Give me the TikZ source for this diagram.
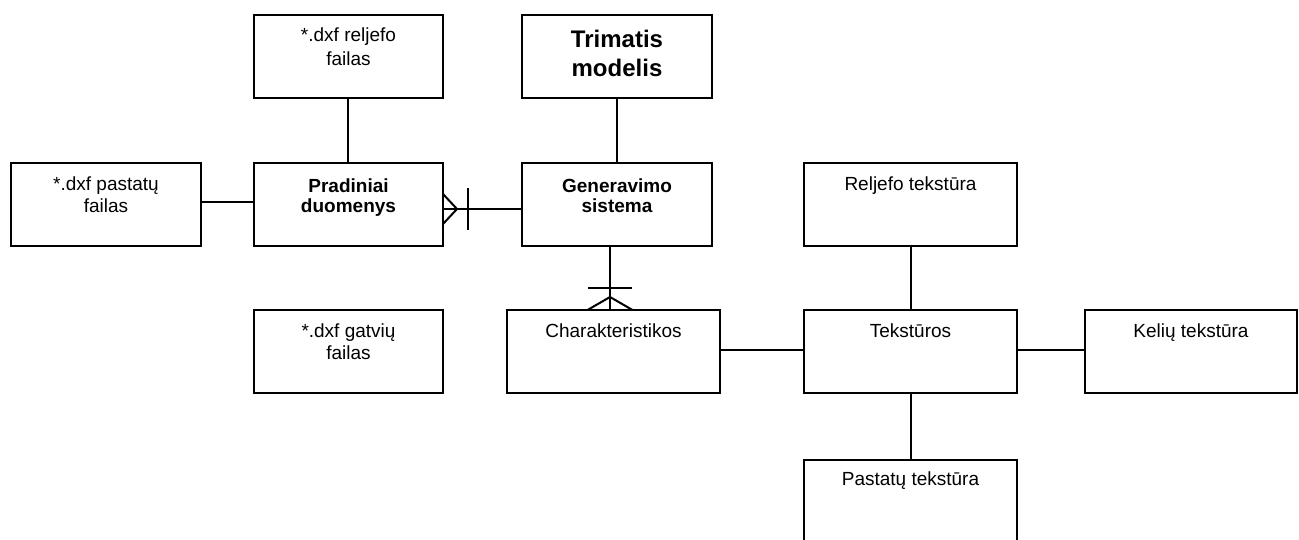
\documentclass[tikz,border=0pt]{standalone}
\usepackage{fontspec}
\setmainfont{Liberation Sans}
\usetikzlibrary{calc}
% centred two-line label whose base anchor sits on the first line
\newcommand\twoline[2]{\begin{tabular}[t]{@{}c@{}}#1\\#2\end{tabular}}
\begin{document}
\begin{tikzpicture}[x=1pt,y=-1pt,
  ent/.style={draw, line width=2pt, rectangle, inner sep=0pt, outer sep=0pt,
              minimum height=83pt, anchor=north west},
  conn/.style={line width=2pt},
  lbl/.style={anchor=base, inner sep=0pt, font=\fontsize{19}{22}\selectfont},
  blbl/.style={anchor=base, inner sep=0pt, font=\fontsize{19}{20}\selectfont\bfseries},
  tlbl/.style={anchor=base, inner sep=0pt, font=\fontsize{24}{29}\selectfont\bfseries}]
\useasboundingbox (0,0) rectangle (1299,539);
\fill[white] (0,0) rectangle (1299,539);
\clip (0,0) rectangle (1299,539);

% entity boxes
\node[ent, minimum width=189pt] (rel) at (254,15) {};
\node[ent, minimum width=190pt] (tri) at (522,15) {};
\node[ent, minimum width=190pt] (pas) at (11,163) {};
\node[ent, minimum width=189pt] (pra) at (254,163) {};
\node[ent, minimum width=190pt] (gen) at (522,163) {};
\node[ent, minimum width=213pt] (rtx) at (804,163) {};
\node[ent, minimum width=189pt] (gat) at (254,310) {};
\node[ent, minimum width=213pt] (cha) at (507,310) {};
\node[ent, minimum width=213pt] (tek) at (804,310) {};
\node[ent, minimum width=212pt] (kel) at (1085,310) {};
\node[ent, minimum width=213pt] (ptx) at (804,460) {};

% labels
\node[lbl, font=\fontsize{19}{24}\selectfont] (relt) at ($(rel.north)+(0,26)$) {\twoline{*.dxf reljefo}{failas}};
\node[tlbl] (trit) at ($(tri.north)+(0,32)$) {\twoline{Trimatis}{modelis}};
\node[lbl]  (past) at ($(pas.north)+(0,27)$) {\twoline{*.dxf pastatų}{failas}};
\node[blbl] (prat) at ($(pra.north)+(0,29)$) {\twoline{Pradiniai}{duomenys}};
\node[blbl] (gent) at ($(gen.north)+(0,29)$) {\twoline{Generavimo}{sistema}};
\node[lbl]  (rtxt) at ($(rtx.north)+(0,27)$) {Reljefo tekstūra};
\node[lbl]  (gatt) at ($(gat.north)+(0,27)$) {\twoline{*.dxf gatvių}{failas}};
\node[lbl]  (chat) at ($(cha.north)+(0,27)$) {Charakteristikos};
\node[lbl]  (tekt) at ($(tek.north)+(0,27)$) {Tekstūros};
\node[lbl]  (kelt) at ($(kel.north)+(0,27)$) {Kelių tekstūra};
\node[lbl]  (ptxt) at ($(ptx.north)+(0,25)$) {Pastatų tekstūra};

% plain connectors
\coordinate (rs) at ($(rel.south)+(-0.5,0)$);
\draw[conn] (rs) -- (rs |- pra.north);
\draw[conn] (tri.south) -- (gen.north);
\coordinate (pw) at ($(pas.east)+(0,-2.5)$);
\draw[conn] (pw) -- (pw -| pra.west);
\coordinate (ce) at ($(cha.east)+(0,-1.5)$);
\draw[conn] (ce) -- (ce -| tek.west);
\coordinate (ts) at ($(rtx.south)+(0.5,0)$);
\draw[conn] (ts) -- (ts |- tek.north);
\coordinate (te) at ($(tek.east)+(0,-1.5)$);
\draw[conn] (te) -- (te -| kel.west);
\coordinate (tb) at ($(tek.south)+(0.5,0)$);
\draw[conn] (tb) -- (tb |- ptx.north);

% Generavimo sistema -- Pradiniai duomenys (one to many)
\coordinate (pe) at ($(pra.east)+(0,4.5)$);
\draw[conn] (gen.west |- pe) -- (pe);
\draw[conn] ($(pe)+(0,-15)$) -- ($(pe)+(14,0)$) -- ($(pe)+(0,15)$);
\draw[conn] ($(pe)+(25,-21)$) -- ($(pe)+(25,21)$);

% Generavimo sistema -- Charakteristikos (one to many)
\coordinate (cn) at ($(cha.north)+(-3.5,0)$);
\draw[conn] (cn |- gen.south) -- (cn);
\draw[conn] ($(cn)+(-22.5,0)$) -- ($(cn)+(0,-13)$) -- ($(cn)+(22.5,0)$);
\draw[conn] ($(cn)+(-22,-22)$) -- ($(cn)+(22,-22)$);
\end{tikzpicture}
\end{document}
